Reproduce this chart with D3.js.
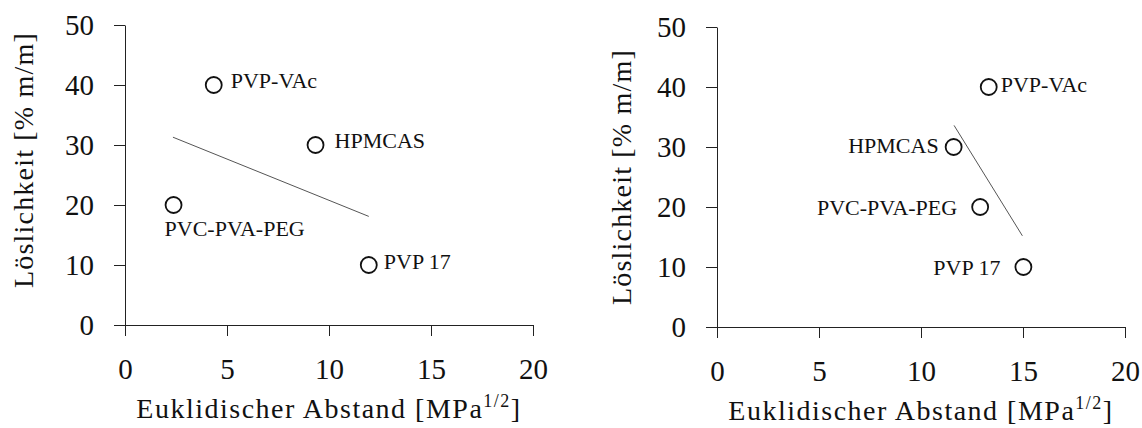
<!DOCTYPE html>
<html>
<head>
<meta charset="utf-8">
<script src="https://cdn.jsdelivr.net/npm/d3@7"></script>
<style>
  html, body { margin: 0; padding: 0; background: #fff; }
  svg { display: block; }
  text { font-family: "Liberation Serif", "DejaVu Serif", serif; fill: #111; }
</style>
</head>
<body>
<svg id="chart" width="1142" height="428"></svg>
<script>
// ---------- data ----------
const polymers = ["PVP-VAc", "HPMCAS", "PVC-PVA-PEG", "PVP 17"];
const solubility = [40, 30, 20, 10];               // Löslichkeit [% m/m]
const distanceLeft = [4.35, 9.34, 2.38, 11.95];     // Euklidischer Abstand, left panel
const distanceRight = [13.32, 11.6, 12.9, 15.02];   // Euklidischer Abstand, right panel
const trendLeftX = [2.35, 11.95];
const trendLeftY = [31.3, 18.1];
const trendRightX = [11.62, 14.97];
const trendRightY = [33.6, 15.2];
const xTicks = [0, 5, 10, 15, 20];
const yTicks = [0, 10, 20, 30, 40, 50];
const yTitle = "Löslichkeit [% m/m]";
const xTitle = "Euklidischer Abstand [MPa";
const xTitleSup = "1/2";

// ---------- layout / style ----------
const FONT = "Liberation Serif";
const panels = [
  { xs: distanceLeft, tx: trendLeftX, ty: trendLeftY, x0: 125, x1: 533, y0: 325, y1: 25,
    yTitleX: 33, yTitleY: 160,
    labels: { "PVP-VAc": [17, 3, "start"], "HPMCAS": [19, 3, "start"], "PVC-PVA-PEG": [-9, 31, "start"], "PVP 17": [15, 4, "start"] } },
  { xs: distanceRight, tx: trendRightX, ty: trendRightY, x0: 717, x1: 1125, y0: 327, y1: 27,
    yTitleX: 631, yTitleY: 177,
    labels: { "PVP-VAc": [12, 5, "start"], "HPMCAS": [-15, 6, "end"], "PVC-PVA-PEG": [-23, 8, "end"], "PVP 17": [-23, 8, "end"] } }
];

const svg = d3.select("#chart");

panels.forEach(p => {
  const x = d3.scaleLinear().domain([0, 20]).range([p.x0, p.x1]);
  const y = d3.scaleLinear().domain([0, 50]).range([p.y0, p.y1]);
  const g = svg.append("g");

  const xAxis = g.append("g")
    .attr("transform", `translate(0,${p.y0})`)
    .call(d3.axisBottom(x).tickValues(xTicks).tickSize(11).tickSizeOuter(0).tickPadding(22));
  const yAxis = g.append("g")
    .attr("transform", `translate(${p.x0},0)`)
    .call(d3.axisLeft(y).tickValues(yTicks).tickSize(11).tickSizeOuter(0).tickPadding(20));

  [xAxis, yAxis].forEach(a => {
    a.attr("font-family", FONT);
    a.selectAll("path, line").attr("stroke", "#222").attr("stroke-width", 1);
    a.selectAll("text").attr("font-family", FONT).attr("font-size", 29).attr("fill", "#111");
  });

  // trend line
  g.append("line")
    .attr("x1", x(p.tx[0])).attr("y1", y(p.ty[0]))
    .attr("x2", x(p.tx[1])).attr("y2", y(p.ty[1]))
    .attr("stroke", "#555").attr("stroke-width", 1);

  // points
  polymers.forEach((name, i) => {
    const cx = x(p.xs[i]), cy = y(solubility[i]);
    g.append("circle")
      .attr("cx", cx).attr("cy", cy).attr("r", 8)
      .attr("fill", "#fff").attr("stroke", "#111").attr("stroke-width", 1.8);
    const lab = p.labels[name];
    g.append("text")
      .attr("x", cx + lab[0]).attr("y", cy + lab[1])
      .attr("text-anchor", lab[2])
      .attr("font-family", FONT)
      .attr("font-size", 22)
      .text(name);
  });

  // y title
  g.append("text")
    .attr("transform", `translate(${p.yTitleX},${p.yTitleY}) rotate(-90)`)
    .attr("text-anchor", "middle")
    .attr("font-family", FONT)
    .attr("font-size", 28)
    .attr("letter-spacing", 1.2)
    .text(yTitle);

  // x title
  const xt = g.append("text")
    .attr("x", (p.x0 + p.x1) / 2)
    .attr("y", p.y0 + 93)
    .attr("text-anchor", "middle")
    .attr("font-family", FONT)
    .attr("font-size", 28)
    .attr("letter-spacing", 1.5);
  xt.append("tspan").text(xTitle);
  xt.append("tspan").attr("font-size", 18).attr("dy", -11).text(xTitleSup);
  xt.append("tspan").attr("dy", 11).text("]");
});
</script>
</body>
</html>
